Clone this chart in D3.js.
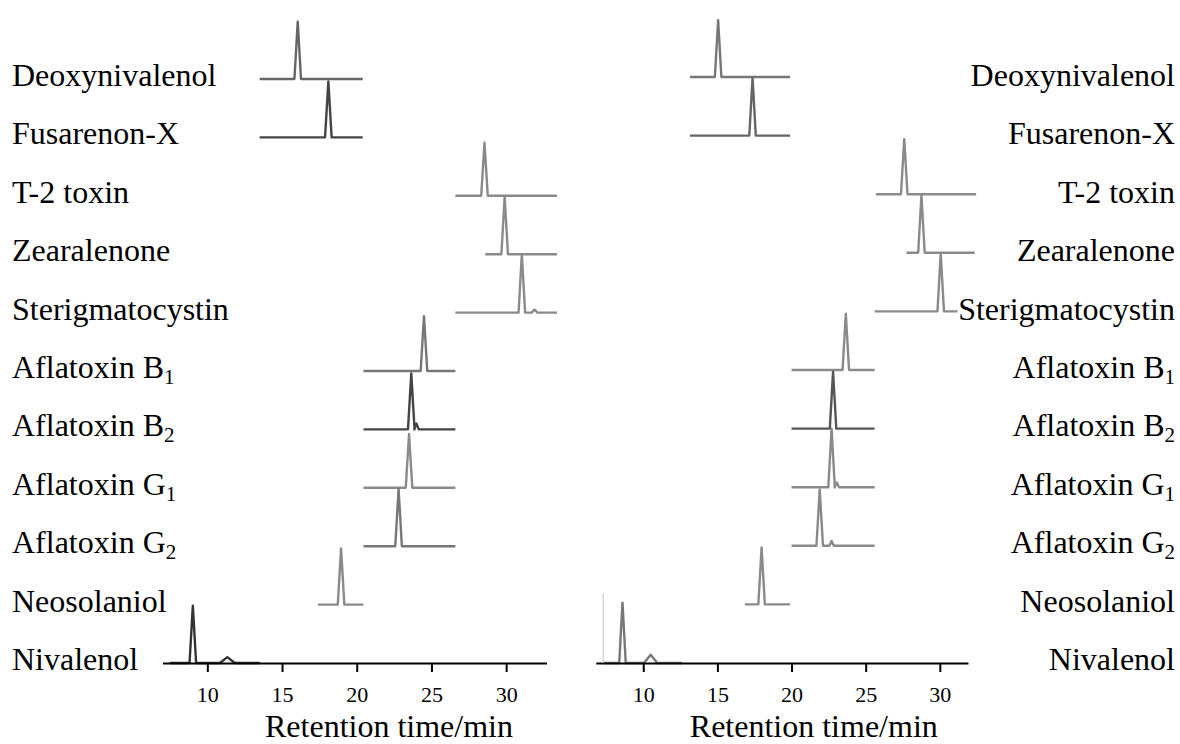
<!DOCTYPE html>
<html>
<head>
<meta charset="utf-8">
<script src="https://cdn.jsdelivr.net/npm/d3@7"></script>
<style>
  body { margin: 0; background: #fff; }
  svg text { font-family: "Liberation Serif", "Times New Roman", serif; fill: #000; }
</style>
</head>
<body>
<script>
// compound names, "|" marks a subscript
let compounds = ["Deoxynivalenol", "Fusarenon-X", "T-2 toxin", "Zearalenone", "Sterigmatocystin",
  "Aflatoxin B|1", "Aflatoxin B|2", "Aflatoxin G|1", "Aflatoxin G|2", "Neosolaniol", "Nivalenol"]

let ticks = [10, 15, 20, 25, 30]

// left chromatograms (min)
let leftStart  = [13.5, 13.5, 26.6, 28.6, 26.6, 20.45, 20.45, 20.45, 20.45, 17.4, 7.5]
let leftEnd    = [20.4, 20.4, 33.4, 33.4, 33.4, 26.6, 26.6, 26.6, 26.6, 20.45, 13.5]
let leftRT     = [16.05, 18.1, 28.55, 29.9, 31.05, 24.5, 23.65, 23.5, 22.8, 18.95, 9.03]
let leftHeight = [0.98, 0.96, 0.91, 0.98, 1.0, 0.94, 0.96, 0.92, 0.98, 0.96, 0.98]
// small extra peaks: [row, rt, height, half width]
let leftMinor  = [[10, 11.34, 0.1, 0.5], [6, 24.0, 0.1, 0.15], [4, 31.9, 0.05, 0.2]]

// right chromatograms (min)
let rightStart  = [13.15, 13.15, 25.7, 27.75, 25.6, 20.0, 20.0, 20.0, 20.0, 16.85, 7.3]
let rightEnd    = [19.9, 19.9, 32.45, 32.35, 31.2, 25.6, 25.6, 25.6, 25.6, 19.9, 12.6]
let rightRT     = [15.05, 17.37, 27.6, 28.76, 30.06, 23.66, 22.8, 22.7, 21.9, 17.98, 8.6]
let rightHeight = [0.97, 0.99, 0.94, 0.98, 0.99, 0.96, 0.97, 1.0, 0.96, 0.97, 1.03]
let rightMinor  = [[10, 10.5, 0.14, 0.45], [7, 23.05, 0.08, 0.15], [8, 22.7, 0.08, 0.15]]

let width = 1180, height = 744
let peakHalf = 0.22
let serif = '"Liberation Serif", "Times New Roman", serif'

let leftTone  = ["#666", "#444", "#8a8a8a", "#8a8a8a", "#8a8a8a", "#777", "#444", "#8a8a8a", "#777", "#8a8a8a", "#333"]
let rightTone = ["#777", "#666", "#8a8a8a", "#8a8a8a", "#8a8a8a", "#8a8a8a", "#555", "#8a8a8a", "#8a8a8a", "#8a8a8a", "#777"]

const svg = d3.select("body").append("svg")
    .attr("width", width)
    .attr("height", height)

function trace(start, end, peaks) {
  // peaks: [rt, h, half]
  let pts = [[start, 0]]
  peaks.sort((a, b) => a[0] - b[0]).forEach(([rt, h, w]) => {
    pts.push([rt - w, 0], [rt, h], [rt + w, 0])
  })
  pts.push([end, 0])
  return pts
}

function panel(opts) {
  let x = d3.scaleLinear().domain(opts.domain).range(opts.range)
  let row = d3.scalePoint().domain(d3.range(compounds.length)).range(opts.rows)
  let step = row.step()
  let y = d3.scaleLinear().domain([0, 1]).range([0, -step])

  let line = d3.line()
      .x(d => x(d[0]))
      .y(d => y(d[1]))

  let g = svg.append("g")

  compounds.forEach((name, i) => {
    let peaks = [[opts.rt[i], opts.h[i], peakHalf]]
    opts.minor.filter(m => m[0] === i).forEach(m => peaks.push([m[1], m[2], m[3]]))
    g.append("path")
        .attr("transform", `translate(0,${row(i)})`)
        .attr("d", line(trace(opts.start[i], opts.end[i], peaks)))
        .attr("fill", "none")
        .attr("stroke", opts.tone[i])
        .attr("stroke-width", 2.4)
        .attr("stroke-linejoin", "round")
  })

  let axisY = row(compounds.length - 1)
  let ax = svg.append("g")
      .attr("transform", `translate(0,${axisY})`)
      .call(d3.axisBottom(x).tickValues(ticks).tickSize(9).tickSizeOuter(0))
      .attr("font-size", 22)
      .attr("font-family", serif)
  ax.select(".domain").attr("stroke-width", 2)
  ax.selectAll(".tick line").attr("stroke-width", 2)
  ax.selectAll(".tick text")
      .attr("y", 39).attr("dy", 0)
      .attr("font-size", 22)
      .style("font-size", "22px")

  svg.append("text")
      .attr("x", x(opts.titleAt))
      .attr("y", 737)
      .attr("text-anchor", "middle")
      .style("font-size", "32px")
      .text("Retention time/min")

  return { x, row }
}

let L = panel({ domain: [7, 32.7], range: [162.5, 546.5], rows: [79, 663],
  start: leftStart, end: leftEnd, rt: leftRT, h: leftHeight, minor: leftMinor, tone: leftTone, titleAt: 22.16 })
let R = panel({ domain: [6.8, 31.9], range: [595.8, 968], rows: [77, 663],
  start: rightStart, end: rightEnd, rt: rightRT, h: rightHeight, minor: rightMinor, tone: rightTone, titleAt: 21.5 })

// faint start marker on the right nivalenol trace
svg.append("line")
    .attr("x1", R.x(rightStart[10])).attr("x2", R.x(rightStart[10]))
    .attr("y1", 663).attr("y2", 593)
    .attr("stroke", "#ccc").attr("stroke-width", 1.2)

function label(x, anchor) {
  svg.append("g").selectAll("text")
    .data(compounds)
    .join("text")
      .attr("x", x)
      .attr("y", (d, i) => 86 + i * 58.4)
      .attr("text-anchor", anchor)
      .style("font-size", "32px")
      .each(function (d) {
        let [main, sub] = d.split("|")
        let t = d3.select(this)
        t.append("tspan").text(main)
        if (sub) t.append("tspan").attr("dy", 6).style("font-size", "21px").text(sub)
      })
}

label(12, "start")
label(1175, "end")
</script>
</body>
</html>
